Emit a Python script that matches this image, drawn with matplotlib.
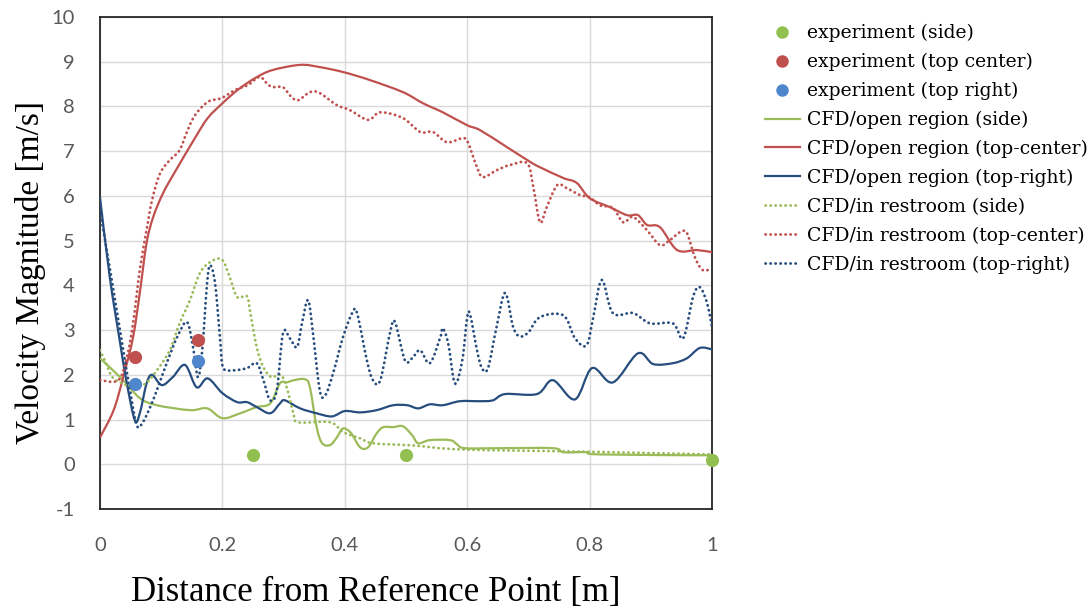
import matplotlib
matplotlib.use("Agg")
import matplotlib.pyplot as plt
from matplotlib.lines import Line2D
from matplotlib.path import Path
from matplotlib.patches import PathPatch

plt.rcParams["axes.unicode_minus"] = False

# ---------------- data ----------------
exp_side_x = [0.25, 0.50, 1.00]
exp_side_y = [0.20, 0.20, 0.10]
exp_center_x = [0.057, 0.160]
exp_center_y = [2.40, 2.78]
exp_right_x = [0.057, 0.160]
exp_right_y = [1.80, 2.30]

open_side_x = [0, 0.038, 0.065, 0.093, 0.147, 0.175, 0.2, 0.229, 0.256, 0.278, 0.294,
               0.305, 0.317, 0.335, 0.343, 0.354, 0.363, 0.376, 0.387, 0.397, 0.41,
               0.425, 0.438, 0.452, 0.463, 0.479, 0.495, 0.51, 0.52, 0.539, 0.572,
               0.583, 0.596, 0.654, 0.74, 0.757, 0.795, 0.817, 1.0]
open_side_y = [2.37, 1.88, 1.48, 1.32, 1.21, 1.25, 1.03, 1.14, 1.28, 1.36, 1.81,
               1.83, 1.88, 1.90, 1.72, 0.83, 0.47, 0.43, 0.60, 0.80, 0.70,
               0.38, 0.38, 0.69, 0.83, 0.83, 0.85, 0.65, 0.47, 0.54, 0.54,
               0.45, 0.36, 0.36, 0.36, 0.27, 0.27, 0.22, 0.20]

open_center_x = [0, 0.022, 0.038, 0.054, 0.065, 0.076, 0.087, 0.103, 0.123, 0.155, 0.176,
                 0.2, 0.225, 0.253, 0.281, 0.327, 0.359, 0.397, 0.441, 0.495, 0.528,
                 0.56, 0.6, 0.621, 0.665, 0.703, 0.719, 0.757, 0.779, 0.8, 0.833,
                 0.861, 0.879, 0.894, 0.915, 0.943, 0.975, 1.0]
open_center_y = [0.60, 1.20, 1.95, 2.84, 3.83, 4.94, 5.53, 6.06, 6.55, 7.29, 7.74,
                 8.07, 8.37, 8.63, 8.81, 8.93, 8.88, 8.77, 8.59, 8.32, 8.07,
                 7.87, 7.58, 7.47, 7.09, 6.76, 6.64, 6.40, 6.29, 5.95, 5.75,
                 5.57, 5.57, 5.35, 5.30, 4.79, 4.79, 4.74]

open_right_x = [0, 0.016, 0.033, 0.044, 0.057, 0.065, 0.076, 0.085, 0.101, 0.119, 0.139,
                0.158, 0.176, 0.2, 0.224, 0.24, 0.256, 0.278, 0.294, 0.302, 0.327,
                0.354, 0.379, 0.4, 0.425, 0.452, 0.479, 0.502, 0.52, 0.539, 0.56,
                0.588, 0.621, 0.642, 0.662, 0.714, 0.74, 0.776, 0.804, 0.838, 0.879,
                0.904, 0.936, 0.959, 0.98, 1.0]
open_right_y = [5.97, 4.18, 2.70, 1.80, 0.98, 1.14, 1.80, 2.00, 1.77, 1.95, 2.22,
                1.72, 1.92, 1.59, 1.39, 1.39, 1.28, 1.14, 1.36, 1.43, 1.25,
                1.14, 1.07, 1.19, 1.16, 1.21, 1.32, 1.32, 1.25, 1.34, 1.32,
                1.41, 1.41, 1.43, 1.57, 1.57, 1.88, 1.45, 2.15, 1.83, 2.48,
                2.24, 2.26, 2.37, 2.60, 2.57]

rest_side_x = [0, 0.01, 0.02, 0.038, 0.054, 0.074, 0.093, 0.114, 0.13, 0.147, 0.163,
               0.18, 0.199, 0.212, 0.224, 0.24, 0.245, 0.256, 0.267, 0.28, 0.295,
               0.305, 0.316, 0.324, 0.376, 0.397, 0.425, 0.446, 0.512, 0.593, 0.8, 1.0]
rest_side_y = [2.55, 2.26, 1.95, 1.80, 1.72, 1.80, 2.10, 2.55, 3.15, 3.67, 4.27,
               4.52, 4.58, 4.18, 3.74, 3.76, 3.44, 2.62, 2.17, 1.95, 2.00,
               1.72, 1.14, 0.94, 0.94, 0.72, 0.58, 0.47, 0.42, 0.33, 0.28, 0.22]

rest_center_x = [0, 0.03, 0.044, 0.054, 0.065, 0.076, 0.085, 0.098, 0.114, 0.13, 0.142,
                 0.155, 0.176, 0.199, 0.221, 0.242, 0.261, 0.275, 0.286, 0.299, 0.313,
                 0.324, 0.343, 0.359, 0.387, 0.408, 0.438, 0.458, 0.495, 0.523, 0.544,
                 0.567, 0.592, 0.601, 0.616, 0.626, 0.649, 0.67, 0.698, 0.708, 0.719,
                 0.73, 0.747, 0.763, 0.784, 0.8, 0.817, 0.838, 0.855, 0.871, 0.894,
                 0.915, 0.931, 0.948, 0.959, 0.972, 0.985, 1.0]
rest_center_y = [1.88, 1.88, 2.40, 3.15, 4.34, 5.23, 5.90, 6.50, 6.80, 7.02, 7.43,
                 7.80, 8.10, 8.19, 8.37, 8.48, 8.66, 8.48, 8.43, 8.43, 8.21,
                 8.14, 8.32, 8.30, 8.03, 7.92, 7.70, 7.87, 7.74, 7.43, 7.43,
                 7.20, 7.29, 7.20, 6.64, 6.42, 6.58, 6.69, 6.73, 6.20, 5.41,
                 5.75, 6.24, 6.17, 6.02, 5.97, 5.79, 5.73, 5.41, 5.53, 5.23,
                 4.90, 5.01, 5.19, 5.17, 4.63, 4.34, 4.38]

rest_right_x = [0, 0.022, 0.038, 0.049, 0.06, 0.07, 0.082, 0.093, 0.109, 0.126, 0.142,
                0.152, 0.16, 0.167, 0.175, 0.18, 0.188, 0.196, 0.201, 0.217, 0.24,
                0.256, 0.267, 0.278, 0.289, 0.299, 0.31, 0.322, 0.33, 0.34, 0.348,
                0.359, 0.368, 0.381, 0.397, 0.412, 0.42, 0.436, 0.446, 0.458, 0.474,
                0.482, 0.498, 0.51, 0.523, 0.539, 0.556, 0.56, 0.569, 0.58, 0.592,
                0.6, 0.605, 0.616, 0.624, 0.634, 0.648, 0.662, 0.675, 0.686, 0.7,
                0.719, 0.757, 0.776, 0.795, 0.806, 0.82, 0.838, 0.871, 0.899, 0.936,
                0.953, 0.969, 0.98, 0.992, 1.0]
rest_right_y = [5.68, 3.89, 2.55, 1.66, 0.87, 0.94, 1.28, 1.66, 2.26, 2.84, 3.18,
                2.62, 1.95, 2.55, 4.05, 4.45, 4.05, 2.84, 2.17, 2.10, 2.15,
                2.26, 1.88, 1.43, 1.66, 2.93, 2.82, 2.62, 3.15, 3.67, 2.93,
                1.66, 1.54, 2.04, 2.84, 3.38, 3.38, 2.33, 1.88, 1.88, 2.95,
                3.18, 2.33, 2.37, 2.55, 2.26, 2.84, 3.04, 2.70, 1.81, 2.33,
                3.29, 3.33, 2.55, 2.15, 2.15, 3.07, 3.83, 3.07, 2.86, 2.95,
                3.29, 3.33, 2.82, 2.66, 3.29, 4.12, 3.38, 3.38, 3.15, 3.15,
                2.82, 3.74, 3.96, 3.60, 3.07]

x_ticks = [0, 0.2, 0.4, 0.6, 0.8, 1]
x_tick_labels = ["0", "0.2", "0.4", "0.6", "0.8", "1"]
y_ticks = list(range(-1, 11))

# ---------------- style ----------------
GREEN = "#9BBB59"
GREEN_M = "#92C050"
RED = "#C0504D"
NAVY = "#264D7E"
BLUE_M = "#4F86CC"
DOT = (0, (0.1, 1.7))
LW_SOLID = 1.6
LW_DOT = 2.0

fig = plt.figure(figsize=(10.92, 6.10), dpi=100)
ax = fig.add_axes([100 / 1092, 1 - 509 / 610, 612 / 1092, 492 / 610])
ax.set_xlim(0, 1)
ax.set_ylim(-1, 10)


def smooth_line(ax, xs, ys, **kw):
    """Draw a smoothed line (Excel-style) through the data points as Bezier curves."""
    n = len(xs)
    verts = [(xs[0], ys[0])]
    codes = [Path.MOVETO]
    for i in range(n - 1):
        x0, y0 = (xs[i - 1], ys[i - 1]) if i > 0 else (xs[i], ys[i])
        x1, y1 = xs[i], ys[i]
        x2, y2 = xs[i + 1], ys[i + 1]
        x3, y3 = (xs[i + 2], ys[i + 2]) if i + 2 < n else (x2, y2)
        c1 = (x1 + (x2 - x0) / 6.0, y1 + (y2 - y0) / 6.0)
        c2 = (x2 - (x3 - x1) / 6.0, y2 - (y3 - y1) / 6.0)
        verts += [c1, c2, (x2, y2)]
        codes += [Path.CURVE4] * 3
    patch = PathPatch(Path(verts, codes), fill=False, **kw)
    ax.add_patch(patch)
    return patch


series = [
    (open_side_x, open_side_y, GREEN, "-"),
    (open_center_x, open_center_y, RED, "-"),
    (open_right_x, open_right_y, NAVY, "-"),
    (rest_side_x, rest_side_y, GREEN, DOT),
    (rest_center_x, rest_center_y, RED, DOT),
    (rest_right_x, rest_right_y, NAVY, DOT),
]
for xs, ys, c, ls in series:
    if ls == "-":
        smooth_line(ax, xs, ys, edgecolor=c, lw=LW_SOLID, zorder=3, joinstyle="round")
    else:
        smooth_line(ax, xs, ys, edgecolor=c, lw=LW_DOT, linestyle=ls,
                    capstyle="round", zorder=3)

ms = 9.5
ax.plot(exp_side_x, exp_side_y, "o", color=GREEN_M, ms=ms, mec="none", clip_on=False, zorder=5)
ax.plot(exp_center_x, exp_center_y, "o", color=RED, ms=ms, mec="none", zorder=5)
ax.plot(exp_right_x, exp_right_y, "o", color=BLUE_M, ms=ms, mec="none", zorder=5)

ax.set_xticks(x_ticks)
ax.set_xticklabels(x_tick_labels)
ax.set_yticks(y_ticks)
ax.grid(True, color="#D9D9D9", lw=1.0, zorder=0)
ax.set_axisbelow(True)
for s in ax.spines.values():
    s.set_color("#262626")
    s.set_linewidth(1.3)

ax.tick_params(axis="both", length=0)
ax.tick_params(axis="x", pad=20)
ax.tick_params(axis="y", pad=18)
for lab in ax.get_xticklabels() + ax.get_yticklabels():
    lab.set_fontfamily(["Lato", "DejaVu Sans"])
    lab.set_fontsize(14.5)
    lab.set_color("#595959")

fig.text(376 / 1092, 1 - 592 / 610, "Distance from Reference Point [m]",
         family=["Liberation Serif"], size=25, ha="center", va="center")
fig.text(31 / 1092, 1 - 272 / 610, "Velocity Magnitude [m/s]",
         family=["Liberation Serif"], size=24, ha="center", va="center", rotation=90)

# legend
leg_handles = [
    Line2D([], [], ls="none", marker="o", color=GREEN_M, ms=9, mec="none"),
    Line2D([], [], ls="none", marker="o", color=RED, ms=9, mec="none"),
    Line2D([], [], ls="none", marker="o", color=BLUE_M, ms=9, mec="none"),
    Line2D([], [], color=GREEN, lw=LW_SOLID),
    Line2D([], [], color=RED, lw=LW_SOLID),
    Line2D([], [], color=NAVY, lw=LW_SOLID),
    Line2D([], [], color=GREEN, lw=LW_DOT, ls=DOT, dash_capstyle="round"),
    Line2D([], [], color=RED, lw=LW_DOT, ls=DOT, dash_capstyle="round"),
    Line2D([], [], color=NAVY, lw=LW_DOT, ls=DOT, dash_capstyle="round"),
]
leg_labels = [
    "experiment (side)", "experiment (top center)", "experiment (top right)",
    "CFD/open region (side)", "CFD/open region (top-center)", "CFD/open region (top-right)",
    "CFD/in restroom (side)", "CFD/in restroom (top-center)", "CFD/in restroom (top-right)",
]
fig.legend(leg_handles, leg_labels,
           loc="upper left", bbox_to_anchor=(765 / 1092, 1 - 24 / 610),
           frameon=False, prop=dict(family="DejaVu Serif", size=13.5),
           handlelength=1.85, handletextpad=0.37, labelspacing=0.57,
           borderpad=0, borderaxespad=0)

fig.savefig("out.png", dpi=100)
